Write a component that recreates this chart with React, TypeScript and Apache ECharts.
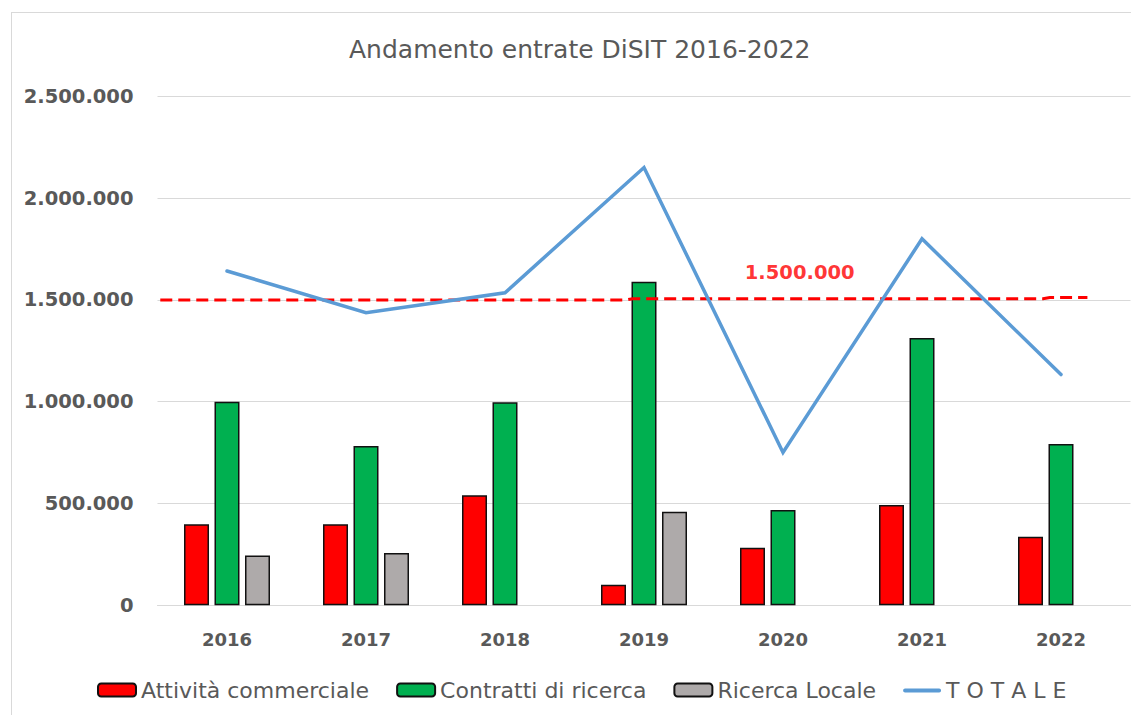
import React, { useEffect, useRef } from "react";
import * as echarts from "echarts";

const years = ["2016", "2017", "2018", "2019", "2020", "2021", "2022"];
const attivitaCommerciale = [398000, 398000, 540000, 101000, 283000, 493000, 337000];
const contrattiRicerca = [1000000, 782000, 997000, 1589000, 468000, 1313000, 792000];
const ricercaLocale = [244000, 257000, null, 460000, null, null, null];
const totale = [1642000, 1437000, 1535000, 2150000, 751000, 1800000, 1133000];
const threshold = 1500000;
// hand-drawn dashed reference line: [category position, value]
const thresholdLine = [
  [-0.48, 1500000],
  [2.87, 1500000],
  [2.92, 1506000],
  [5.87, 1506000],
  [5.92, 1512000],
  [6.19, 1512000],
];
const thresholdLabelPos = [4.12, threshold];
const yTicks = { min: 0, max: 2500000, interval: 500000 };

const FONT = "DejaVu Sans";
const GREY_TEXT = "#595959";
// line legend icon: a thick horizontal stroke centred in a 38x13 box
const LINE_ICON =
  "path://M0,0L0.01,0L0.01,0.01L0,0.01Z M2,5 L36,5 A2,2 0 0 1 36,9 L2,9 A2,2 0 0 1 2,5 Z M0,13L0.01,13L0.01,13.01L0,13.01Z M38,0L38.01,0L38.01,0.01L38,0.01Z";

function fmtIt(v: number): string {
  return Math.round(v)
    .toString()
    .replace(/\B(?=(\d{3})+(?!\d))/g, ".");
}

export default function App() {
  const ref = useRef<HTMLDivElement>(null);

  useEffect(() => {
    if (!ref.current) return;
    const chart = echarts.init(ref.current, null, { renderer: "svg" });
    const barBorder = { borderColor: "#111", borderWidth: 1.5 };
    chart.setOption({
      animation: false,
      backgroundColor: "#fff",
      title: {
        text: "Andamento entrate DiSIT 2016-2022",
        left: 336,
        top: 24,
        textStyle: { fontFamily: FONT, fontSize: 25, fontWeight: "normal", color: GREY_TEXT },
      },
      legend: {
        left: 84,
        top: 666,
        itemGap: 27,
        itemWidth: 38,
        itemHeight: 13,
        data: [
          { name: "Attività commerciale" },
          { name: "Contratti di ricerca" },
          { name: "Ricerca Locale" },
          { name: "T O T A L E", icon: LINE_ICON, itemStyle: { color: "#5B9BD5", borderWidth: 0 } },
        ],
        textStyle: { fontFamily: FONT, fontSize: 22, color: GREY_TEXT },
      },
      grid: { left: 149.5, right: 8.5, top: 88.3, bottom: 109.7, containLabel: false },
      xAxis: [
        {
          type: "category",
          data: years,
          axisTick: { show: false },
          axisLine: { lineStyle: { color: "#d9d9d9", width: 1 } },
          axisLabel: {
            margin: 25,
            fontFamily: FONT,
            fontSize: 18,
            fontWeight: "bold",
            color: GREY_TEXT,
          },
        },
        {
          type: "value",
          min: -0.5,
          max: 6.5,
          show: false,
        },
      ],
      yAxis: {
        type: "value",
        min: yTicks.min,
        max: yTicks.max,
        interval: yTicks.interval,
        axisLine: { show: false },
        axisTick: { show: false },
        splitLine: { lineStyle: { color: "#d9d9d9", width: 1 } },
        axisLabel: {
          margin: 24,
          fontFamily: FONT,
          fontSize: 19.5,
          fontWeight: "bold",
          color: GREY_TEXT,
          formatter: (v: number) => fmtIt(v),
        },
      },
      series: [
        {
          name: "Attività commerciale",
          type: "bar",
          data: attivitaCommerciale,
          barWidth: 25,
          barGap: "22%",
          itemStyle: { color: "#FF0000", ...barBorder },
        },
        {
          name: "Contratti di ricerca",
          type: "bar",
          data: contrattiRicerca,
          barWidth: 25,
          barGap: "22%",
          itemStyle: { color: "#00B050", ...barBorder },
        },
        {
          name: "Ricerca Locale",
          type: "bar",
          data: ricercaLocale,
          barWidth: 25,
          barGap: "22%",
          itemStyle: { color: "#AEAAAA", ...barBorder },
        },
        {
          name: "soglia",
          type: "line",
          xAxisIndex: 1,
          data: thresholdLine,
          symbol: "none",
          lineStyle: { color: "#FF0000", width: 3, type: [12, 6] },
          z: 3,
        },
        {
          name: "T O T A L E",
          type: "line",
          data: totale,
          symbol: "none",
          lineStyle: { color: "#5B9BD5", width: 3.5, cap: "round", join: "miter" },
          itemStyle: { color: "#5B9BD5" },
          z: 4,
        },
        {
          name: "etichetta",
          type: "scatter",
          xAxisIndex: 1,
          data: [thresholdLabelPos],
          symbolSize: 0,
          label: {
            show: true,
            position: "inside",
            offset: [0, -27],
            formatter: () => fmtIt(threshold),
            fontFamily: FONT,
            fontSize: 19.5,
            fontWeight: "bold",
            color: "#FF0000",
          },
          z: 5,
        },
      ],
    });
    return () => chart.dispose();
  }, []);

  return (
    <div style={{ position: "relative", width: 1131, height: 707, overflow: "hidden" }}>
      <div ref={ref} style={{ position: "absolute", left: 0, top: 0, width: 1131, height: 707 }} />
      <div
        style={{
          position: "absolute",
          left: 3,
          top: 4,
          width: 1150,
          height: 730,
          border: "1px solid #d9d9d9",
          pointerEvents: "none",
        }}
      />
    </div>
  );
}
